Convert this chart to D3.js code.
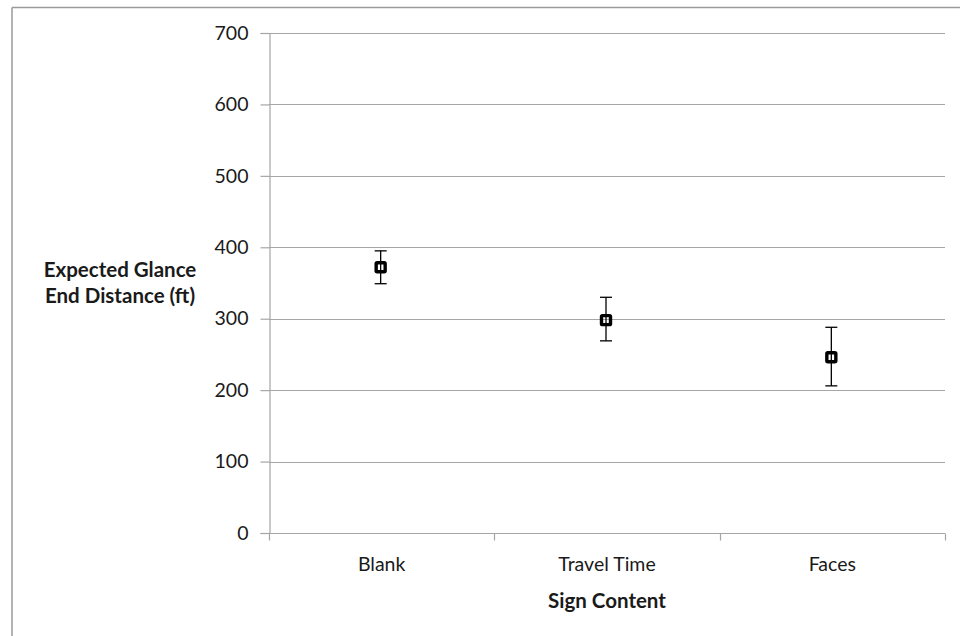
<!DOCTYPE html>
<html>
<head>
<meta charset="utf-8">
<script src="https://cdn.jsdelivr.net/npm/d3@7/dist/d3.min.js"></script>
<style>
  html, body { margin: 0; padding: 0; background: #fff; }
  svg { display: block; }
  text { font-family: Lato, "Open Sans", sans-serif; fill: #1a1a1a; }
</style>
</head>
<body>
<svg id="chart" width="960" height="636"></svg>
<script>
// Sign content conditions and expected glance end distance (ft)
const categories = ["Blank", "Travel Time", "Faces"];
const means = [372, 298, 246];
const upper = [395, 330, 288];
const lower = [349, 269, 206];
const yTicks = [0, 100, 200, 300, 400, 500, 600, 700];

const svg = d3.select("#chart");
const W = 960, H = 636;
const margin = { left: 269, right: 15, top: 33, bottom: 103 };

// outer frame (top and left edges only visible)
svg.append("line").attr("x1", 12).attr("x2", W).attr("y1", 7.5).attr("y2", 7.5)
  .attr("stroke", "#9a9a9a").attr("stroke-width", 1.5);
svg.append("line").attr("x1", 12).attr("x2", 12).attr("y1", 7.5).attr("y2", H)
  .attr("stroke", "#9a9a9a").attr("stroke-width", 1.5);

const x = d3.scaleBand().domain(categories)
  .range([margin.left, W - margin.right]).paddingInner(0).paddingOuter(0);
const y = d3.scaleLinear().domain([0, 700]).range([H - margin.bottom, margin.top]);

// horizontal gridlines
svg.append("g").selectAll("line").data(yTicks.filter(d => d > 0)).join("line")
  .attr("x1", margin.left).attr("x2", W - margin.right)
  .attr("y1", d => Math.round(y(d)) + 0.5).attr("y2", d => Math.round(y(d)) + 0.5)
  .attr("stroke", "#a6a6a6").attr("stroke-width", 1.2);

// y axis
const yAxis = svg.append("g").attr("transform", `translate(${margin.left + 0.5},0)`)
  .call(d3.axisLeft(y).tickValues(yTicks).tickSize(9).tickPadding(12).tickFormat(d3.format("d")));
yAxis.select(".domain").attr("stroke", "#a6a6a6").attr("stroke-width", 1.2);
yAxis.selectAll(".tick line").attr("stroke", "#a6a6a6").attr("stroke-width", 1.2);
yAxis.selectAll(".tick text").style("font-size", "19.5px").attr("fill", "#1a1a1a")
  .style("font-family", "Lato, sans-serif");

// x axis with ticks on band boundaries
const xAxisY = Math.round(y(0)) + 0.5;
svg.append("line").attr("x1", margin.left).attr("x2", W - margin.right)
  .attr("y1", xAxisY).attr("y2", xAxisY).attr("stroke", "#a6a6a6").attr("stroke-width", 1.2);
const boundaries = categories.map(c => x(c)).concat([x(categories[categories.length - 1]) + x.bandwidth()]);
svg.append("g").selectAll("line").data(boundaries).join("line")
  .attr("x1", d => Math.round(d) + 0.5).attr("x2", d => Math.round(d) + 0.5)
  .attr("y1", xAxisY).attr("y2", xAxisY + 7)
  .attr("stroke", "#a6a6a6").attr("stroke-width", 1.2);
svg.append("g").selectAll("text").data(categories).join("text")
  .attr("x", d => x(d) + x.bandwidth() / 2).attr("y", xAxisY + 37)
  .attr("text-anchor", "middle").style("font-size", "19.5px").text(d => d);

// axis titles
svg.append("text").attr("x", x("Travel Time") + x.bandwidth() / 2).attr("y", xAxisY + 74)
  .attr("text-anchor", "middle").style("font-size", "20.5px").style("font-weight", "bold")
  .text("Sign Content");
const yTitle = svg.append("text").attr("text-anchor", "middle")
  .style("font-size", "20.5px").style("font-weight", "bold");
yTitle.append("tspan").attr("x", 120).attr("y", 277).text("Expected Glance");
yTitle.append("tspan").attr("x", 120).attr("y", 303).text("End Distance (ft)");

// error bars and markers
const cx = i => x(categories[i]) + x.bandwidth() / 2 - 1;
const pts = svg.append("g").selectAll("g").data(means).join("g");
pts.append("line")
  .attr("x1", (d, i) => cx(i)).attr("x2", (d, i) => cx(i))
  .attr("y1", (d, i) => y(upper[i])).attr("y2", (d, i) => y(lower[i]))
  .attr("stroke", "#000").attr("stroke-width", 1.3);
[upper, lower].forEach(arr => {
  pts.append("line")
    .attr("x1", (d, i) => cx(i) - 6).attr("x2", (d, i) => cx(i) + 6)
    .attr("y1", (d, i) => y(arr[i])).attr("y2", (d, i) => y(arr[i]))
    .attr("stroke", "#000").attr("stroke-width", 1.3);
});
pts.append("rect")
  .attr("x", (d, i) => cx(i) - 4.5).attr("y", d => y(d) - 4.5)
  .attr("width", 9).attr("height", 9).attr("rx", 1)
  .attr("fill", "none").attr("stroke", "#000").attr("stroke-width", 3.4);
</script>
</body>
</html>
